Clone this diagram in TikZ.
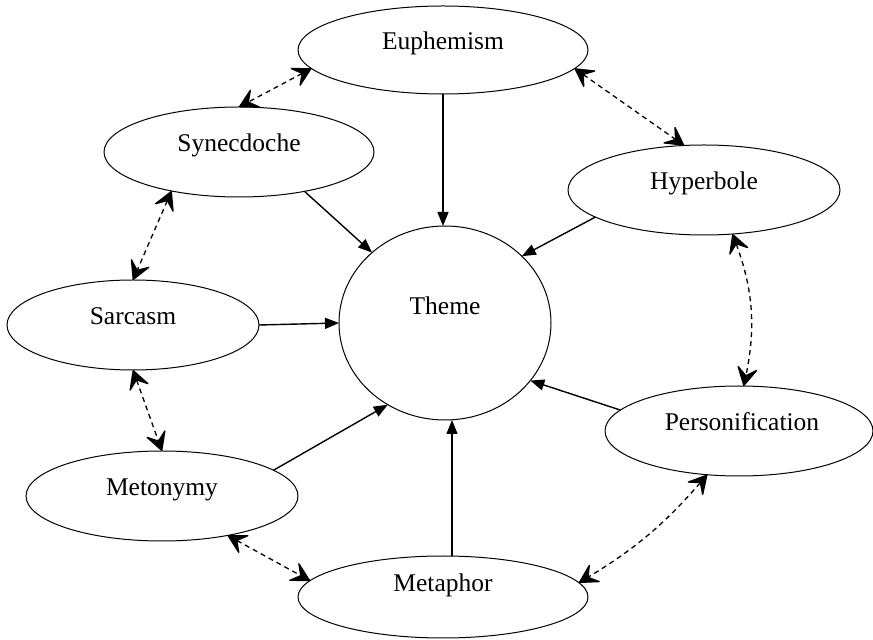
\documentclass[tikz,border=0pt]{standalone}
\usepackage{fontspec}
\setmainfont{Liberation Serif}
\usetikzlibrary{arrows.meta,shapes.geometric}
\tikzset{
  ell/.style={draw, ellipse, line width=1pt, inner sep=0pt, outer sep=0pt,
    text height=0pt, text depth=0pt, font=\fontsize{25.5}{30}\selectfont},
  solidarr/.style={-{Triangle[length=14pt,width=11pt]}, line width=1.4pt},
  dasharr/.style={line width=1.3pt, dash pattern=on 5pt off 4pt,
    {Stealth[length=21pt,width=23pt,inset=9pt,round]}-{Stealth[length=21pt,width=23pt,inset=9pt,round]}},
}
\begin{document}
\begin{tikzpicture}[x=1pt,y=1pt]
\useasboundingbox (0,0) rectangle (873,640);
\node[ell, minimum width=290pt, minimum height=88pt] (euph) at (443,590) {Euphemism};
\node[ell, minimum width=270pt, minimum height=90pt] (syn) at (239,488) {Synecdoche};
\node[ell, minimum width=272pt, minimum height=90pt] (hyp) at (704,450) {Hyperbole};
\node[ell, minimum width=252pt, minimum height=90pt] (sarc) at (133,315) {Sarcasm};
\node[ell, minimum width=212pt, minimum height=194pt] (theme) at (445,317) {\raisebox{8pt}{Theme}};
\node[ell, minimum width=268pt, minimum height=90pt] (pers) at (739,209) {\hspace*{6pt}Personification};
\node[ell, minimum width=272pt, minimum height=90pt] (meton) at (162,144) {Metonymy};
\node[ell, minimum width=290pt, minimum height=82pt] (meta) at (443,43) {\raisebox{5pt}{Metaphor}};
% solid arrows to Theme
\draw[solidarr] (euph.south) -- (euph.south |- theme.north);
\draw[solidarr] (syn.-31) -- (theme.136);
\draw[solidarr] (hyp.-166) -- (theme.41);
\draw[solidarr] (sarc.east) -- (theme.west);
\draw[solidarr] (meton.13) -- (theme.-125);
\draw[solidarr] ([xshift=9pt]meta.north) -- ([xshift=9pt]meta.north |- theme.south);
\draw[solidarr] (pers.170) -- (theme.-34);
% dashed double arrows
\draw[dasharr] (euph.-172) -- (syn.north);
\draw[dasharr] (euph.-8) -- (hyp.114);
\draw[dasharr] (syn.-150) -- (sarc.north);
\draw[dasharr] (hyp.-57) to[bend left=16] (pers.84);
\draw[dasharr] (sarc.south) -- (meton.north);
\draw[dasharr] (meton.-31) -- (meta.173);
\draw[dasharr] (pers.-126) to[bend left=9] (meta.6);
\end{tikzpicture}
\end{document}
